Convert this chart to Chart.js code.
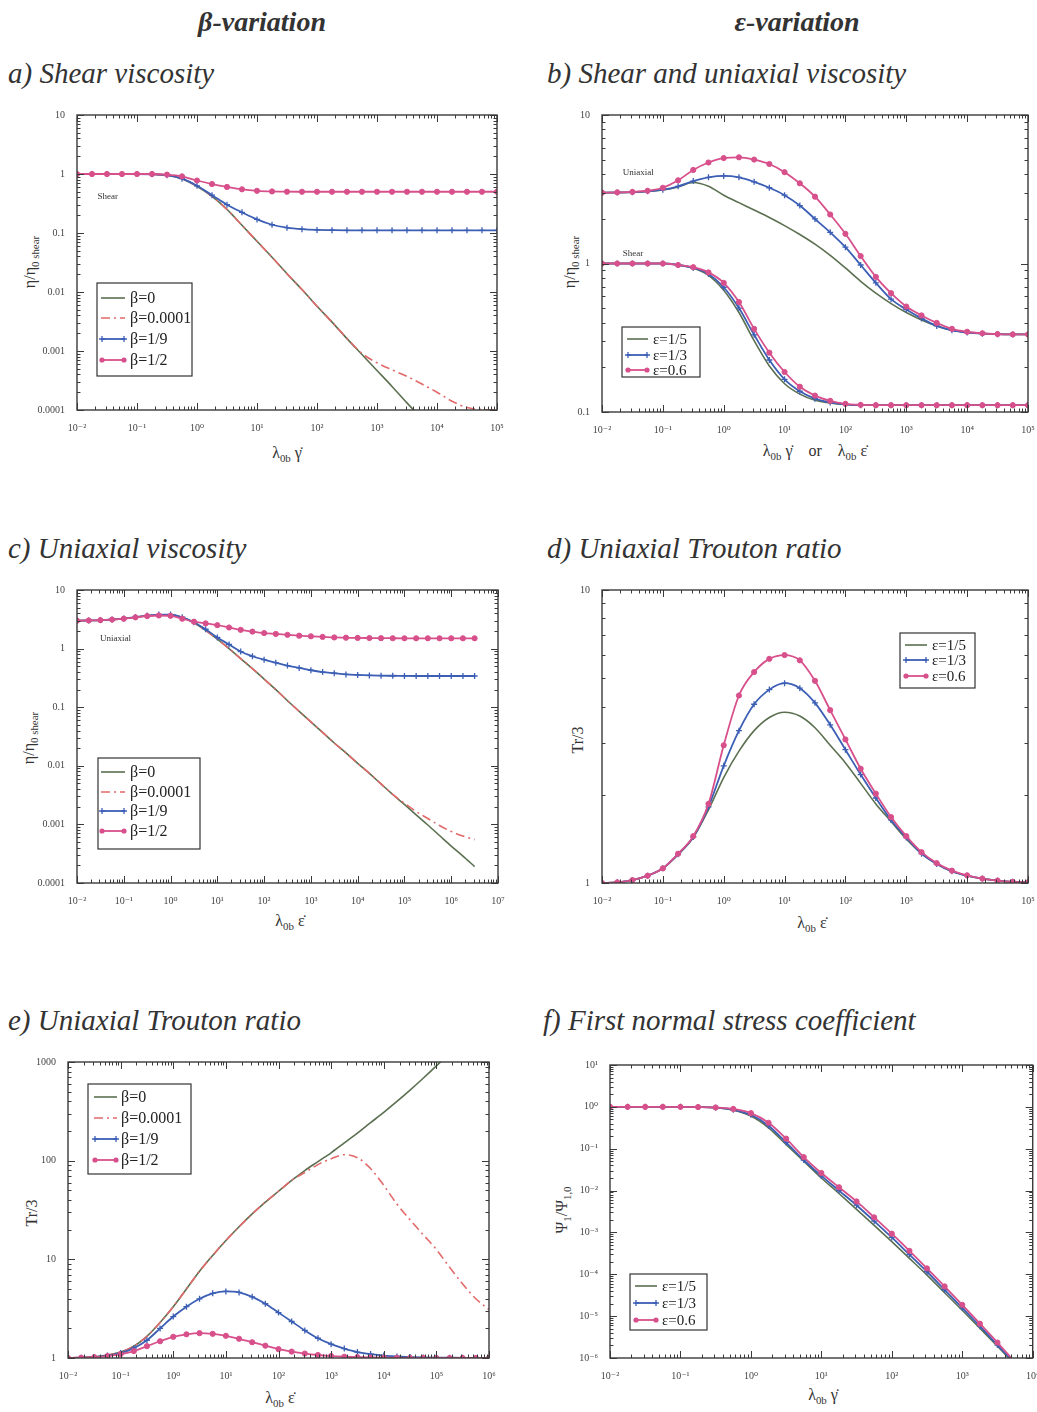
<!DOCTYPE html>
<html>
<head>
<meta charset="utf-8">
<script src="https://cdn.jsdelivr.net/npm/chart.js@4.4.1/dist/chart.umd.min.js"></script>
<style>
  body { margin: 0; background: #fff; }
  #page { position: relative; width: 1037px; height: 1412px; overflow: hidden; background: #fff; }
  .hd { position: absolute; font: italic bold 28px "Liberation Serif", serif; color: #333; transform: translate(-50%, -50%); white-space: nowrap; }
  .pt { position: absolute; font: italic 29px "Liberation Serif", serif; color: #333; transform: translateY(-50%); white-space: nowrap; }
  .ax { position: absolute; font: 16px "Liberation Serif", serif; color: #333; transform: translate(-50%, -50%); white-space: nowrap; }
  .ay { position: absolute; font: 16px "Liberation Serif", serif; color: #333; transform: translate(-50%, -50%) rotate(-90deg); white-space: nowrap; }
  sub { font-size: 0.68em; vertical-align: -0.35em; line-height: 0; }
</style>
</head>
<body>
<div id="page">
  <div class="hd" style="left:262px;top:22px">β-variation</div>
  <div class="hd" style="left:797px;top:22px">ε-variation</div>

  <div class="pt" style="left:8px;top:73px">a) Shear viscosity</div>
  <div class="pt" style="left:547px;top:73px">b) Shear and uniaxial viscosity</div>
  <div class="pt" style="left:8px;top:548px">c) Uniaxial viscosity</div>
  <div class="pt" style="left:547px;top:548px">d) Uniaxial Trouton ratio</div>
  <div class="pt" style="left:8px;top:1020px">e) Uniaxial Trouton ratio</div>
  <div class="pt" style="left:543px;top:1020px">f) First normal stress coefficient</div>

  <div class="ay" style="left:30px;top:262px">η/η<sub>0 shear</sub></div>
  <div class="ax" style="left:287px;top:453px">λ<sub>0b</sub> γ̇</div>
  <div class="ay" style="left:570px;top:262px">η/η<sub>0 shear</sub></div>
  <div class="ax" style="left:815px;top:451px">λ<sub>0b</sub> γ̇ &nbsp;&nbsp; or &nbsp;&nbsp; λ<sub>0b</sub> ε̇</div>
  <div class="ay" style="left:29px;top:738px">η/η<sub>0 shear</sub></div>
  <div class="ax" style="left:290px;top:921px">λ<sub>0b</sub> ε̇</div>
  <div class="ay" style="left:578px;top:740px">Tr/3</div>
  <div class="ax" style="left:812px;top:923px">λ<sub>0b</sub> ε̇</div>
  <div class="ay" style="left:32px;top:1213px">Tr/3</div>
  <div class="ax" style="left:280px;top:1398px">λ<sub>0b</sub> ε̇</div>
  <div class="ay" style="left:562px;top:1210px">Ψ<sub>1</sub>/Ψ<sub>1,0</sub></div>
  <div class="ax" style="left:823px;top:1395px">λ<sub>0b</sub> γ̇</div>
</div>
<script>
// ---- data ----
// x grids (quarter decades)
const xA = [0.01,0.0178,0.0316,0.0562,0.1,0.178,0.316,0.562,1,1.78,3.16,5.62,10,17.8,31.6,56.2,100,178,316,562,1000,1780,3160,5620,10000,17800,31600,56200,100000];
const xC = [0.01,0.0178,0.0316,0.0562,0.1,0.178,0.316,0.562,1,1.78,3.16,5.62,10,17.8,31.6,56.2,100,178,316,562,1000,1780,3160,5620,10000,17800,31600,56200,100000,178000,316000,562000,1000000,1780000,3160000];
const xE = xC.slice(0, 33);
const xF = xA.slice(0, 25);

// a) shear viscosity, beta variation
const aBeta0   = [1,1,1,1,1,0.989,0.955,0.832,0.617,0.417,0.251,0.135,0.0724,0.0389,0.0204,0.011,0.00575,0.00309,0.00162,0.000871,0.000468,0.000251,0.000132,0.0000708,null,null,null,null,null];
const aBeta1e4 = [1,1,1,1,1,0.989,0.955,0.832,0.617,0.417,0.251,0.135,0.0724,0.0389,0.0204,0.011,0.00575,0.00309,0.00163,0.000912,0.000631,0.000479,0.000372,0.000275,0.0002,0.000141,0.00011,0.000102,0.0001];
const aBeta19  = [1,1,1,1,1,0.989,0.955,0.832,0.631,0.437,0.302,0.224,0.17,0.138,0.123,0.116,0.1127,0.1117,0.1111,0.1111,0.1111,0.1111,0.1111,0.1111,0.1111,0.1111,0.1111,0.1111,0.1111];
const aBeta12  = [1,1,1,1,1,1,0.977,0.912,0.776,0.676,0.603,0.55,0.519,0.506,0.501,0.5,0.5,0.5,0.5,0.5,0.5,0.5,0.5,0.5,0.5,0.5,0.5,0.5,0.5];

// b) shear and uniaxial viscosity, epsilon variation
const bUniE15 = [3,3.006,3.02,3.055,3.126,3.273,3.508,3.311,2.884,2.57,2.291,2.042,1.799,1.567,1.349,1.135,0.933,0.759,0.631,0.537,0.468,0.417,0.38,0.355,0.343,0.337,0.334,0.333,0.333];
const bUniE13 = [3,3.006,3.02,3.062,3.141,3.311,3.589,3.802,3.89,3.802,3.548,3.236,2.884,2.455,1.995,1.622,1.288,0.977,0.741,0.575,0.49,0.427,0.38,0.355,0.343,0.337,0.334,0.333,0.333];
const bUniE06 = [3,3.013,3.034,3.09,3.236,3.631,4.266,4.786,5.129,5.188,5.012,4.677,4.121,3.467,2.818,2.138,1.585,1.122,0.813,0.631,0.513,0.447,0.398,0.363,0.347,0.339,0.335,0.333,0.333];
const bShE15  = [1,1,1,1,1,0.977,0.933,0.832,0.661,0.468,0.302,0.204,0.155,0.132,0.12,0.115,0.1122,0.1111,0.1111,0.1111,0.1111,0.1111,0.1111,0.1111,0.1111,0.1111,0.1111,0.1111,0.1111];
const bShE13  = [1,1,1,1,1,0.977,0.933,0.851,0.692,0.501,0.331,0.224,0.166,0.138,0.123,0.116,0.1127,0.1111,0.1111,0.1111,0.1111,0.1111,0.1111,0.1111,0.1111,0.1111,0.1111,0.1111,0.1111];
const bShE06  = [1,1,1,1,1,0.977,0.944,0.871,0.741,0.55,0.363,0.251,0.186,0.148,0.129,0.119,0.1135,0.1117,0.1111,0.1111,0.1111,0.1111,0.1111,0.1111,0.1111,0.1111,0.1111,0.1111,0.1111];

// c) uniaxial viscosity, beta variation
const cBeta0   = [3,3.02,3.055,3.126,3.236,3.428,3.631,3.758,3.758,3.388,2.754,2.042,1.445,1,0.676,0.457,0.302,0.2,0.129,0.0851,0.0562,0.0372,0.0245,0.0166,0.011,0.00741,0.0049,0.00324,0.00219,0.00145,0.000977,0.000646,0.000427,0.000288,0.000191];
const cBeta1e4 = [3,3.02,3.055,3.126,3.236,3.428,3.631,3.758,3.758,3.388,2.754,2.042,1.445,1,0.676,0.457,0.302,0.2,0.129,0.0851,0.0562,0.0372,0.0245,0.0166,0.011,0.00741,0.0049,0.00324,0.00229,0.00166,0.00126,0.000955,0.000759,0.000631,0.00055];
const cBeta19  = [3,3.02,3.062,3.141,3.251,3.451,3.656,3.802,3.802,3.428,2.818,2.138,1.549,1.175,0.891,0.741,0.646,0.575,0.513,0.468,0.427,0.398,0.38,0.363,0.355,0.349,0.345,0.344,0.342,0.341,0.341,0.341,0.341,0.341,0.341];
const cBeta12  = [3,3.02,3.055,3.126,3.236,3.412,3.589,3.673,3.631,3.236,2.884,2.692,2.512,2.291,2.089,1.95,1.841,1.778,1.718,1.66,1.622,1.585,1.549,1.535,1.521,1.514,1.507,1.503,1.5,1.5,1.5,1.5,1.5,1.5,1.5];

// d) uniaxial Trouton ratio, epsilon variation
const dE15 = [1,1.005,1.023,1.059,1.122,1.25,1.429,1.778,2.291,2.818,3.311,3.673,3.828,3.715,3.388,2.951,2.57,2.188,1.862,1.622,1.413,1.259,1.161,1.096,1.059,1.035,1.019,1.009,1.005];
const dE13 = [1,1.005,1.023,1.059,1.122,1.253,1.435,1.82,2.512,3.311,4.074,4.571,4.808,4.624,4.121,3.467,2.851,2.344,1.95,1.641,1.429,1.259,1.161,1.096,1.059,1.035,1.019,1.009,1.005];
const dE06 = [1,1.005,1.023,1.059,1.122,1.259,1.445,1.862,2.951,4.365,5.248,5.821,5.998,5.754,4.898,3.89,3.09,2.455,2.018,1.679,1.445,1.274,1.169,1.102,1.062,1.035,1.019,1.009,1.005];

// e) uniaxial Trouton ratio, beta variation
const eBeta0   = [1,1.012,1.028,1.072,1.148,1.318,1.66,2.291,3.311,5.012,7.586,10.96,15.49,21.38,28.84,38.02,48.98,63.1,79.43,97.72,120.2,151.4,190.5,242.7,309,398.1,518.8,683.9,912,1230,null,null,null];
const eBeta1e4 = [1,1.012,1.028,1.072,1.148,1.318,1.66,2.291,3.311,5.012,7.586,10.96,15.49,21.38,28.84,38.02,48.98,63.1,75.86,91.2,104.7,114.8,107.2,83.18,56.23,36.31,25.12,17.78,12.59,8.318,5.623,3.981,3.09];
const eBeta19  = [1,1.007,1.023,1.059,1.122,1.259,1.514,1.995,2.63,3.311,3.981,4.519,4.732,4.624,4.169,3.548,2.884,2.344,1.905,1.585,1.38,1.245,1.148,1.096,1.059,1.038,1.023,1.014,1.009,1.007,1.005,1.002,1.002];
const eBeta12  = [1,1.007,1.019,1.047,1.096,1.175,1.318,1.479,1.641,1.738,1.786,1.758,1.679,1.567,1.445,1.334,1.23,1.161,1.109,1.072,1.047,1.03,1.019,1.012,1.007,1.005,1.002,1.002,1,1,1,1,1];

// f) first normal stress coefficient, epsilon variation
const fE15 = [1,1,1,1,1,0.989,0.955,0.832,0.603,0.316,0.126,0.0501,0.02,0.00851,0.00355,0.00148,0.000603,0.00024,0.0000955,0.0000363,0.0000138,0.00000513,0.00000191,6.92e-7,2.51e-7];
const fE13 = [1,1,1,1,1,0.989,0.955,0.851,0.646,0.355,0.141,0.0537,0.0224,0.01,0.00447,0.00186,0.000759,0.000295,0.000115,0.0000427,0.0000158,0.00000575,0.00000204,7.24e-7,2.63e-7];
const fE06 = [1,1,1,1,1,0.989,0.966,0.891,0.708,0.417,0.174,0.0631,0.0263,0.012,0.0055,0.00229,0.000933,0.000363,0.000138,0.0000513,0.0000186,0.00000661,0.00000234,7.94e-7,2.82e-7];

// ---- drawing ----
const SERIF = '"Liberation Serif", "DejaVu Serif", serif';
const PAGE_W = 1037, YW = 72, PT = 12, XH = 32;
const SUP = { '-': '⁻', '0': '⁰', '1': '¹', '2': '²', '3': '³', '4': '⁴', '5': '⁵', '6': '⁶', '7': '⁷', '8': '⁸', '9': '⁹' };

const STYLE = {
  green: { color: '#5b7050', width: 1.6, dash: [], point: null },
  red:   { color: '#e26a6a', width: 1.6, dash: [9, 4, 2, 4], point: null },
  blue:  { color: '#3c5fb5', width: 1.8, dash: [], point: 'cross' },
  pink:  { color: '#d8508b', width: 1.8, dash: [], point: 'circle' }
};

function logTicks(min, max) {
  const out = [];
  for (let e = Math.floor(Math.log10(min)); e <= Math.ceil(Math.log10(max)); e++) {
    for (let m = 1; m < 10; m++) {
      const v = Number((m * Math.pow(10, e)).toPrecision(6));
      if (v >= min * 0.999 && v <= max * 1.001) out.push({ value: v, major: m === 1 });
    }
  }
  return out;
}

function tickText(v, fmt) {
  const e = Math.log10(v);
  if (Math.abs(e - Math.round(e)) > 1e-6) return '';
  if (fmt === 'pow') return '10' + String(Math.round(e)).split('').map(c => SUP[c]).join('');
  return String(v);
}

const panels = [
  { id: 'a', rect: [77, 115, 497, 410], xr: [0.01, 1e5], yr: [1e-4, 10], xf: 'pow', yf: 'plain', xs: xA,
    series: [['β=0', aBeta0, 'green'], ['β=0.0001', aBeta1e4, 'red'], ['β=1/9', aBeta19, 'blue'], ['β=1/2', aBeta12, 'pink']],
    legend: { box: [97, 283, 192, 376], rows: [298, 318, 339, 360], line: [101, 125], text: 130, size: 16, items: [0, 1, 2, 3] },
    notes: [{ t: 'Shear', x: 0.022, y: 0.41 }] },
  { id: 'b', rect: [602, 115, 1028, 412], xr: [0.01, 1e5], yr: [0.1, 10], xf: 'pow', yf: 'plain', xs: xA,
    series: [['ε=1/5', bUniE15, 'green'], ['ε=1/3', bUniE13, 'blue'], ['ε=0.6', bUniE06, 'pink'],
             ['ε=1/5', bShE15, 'green'], ['ε=1/3', bShE13, 'blue'], ['ε=0.6', bShE06, 'pink']],
    legend: { box: [622, 327, 700, 377], rows: [339, 355, 370], line: [627, 648], text: 653, size: 15, items: [0, 1, 2] },
    notes: [{ t: 'Uniaxial', x: 0.022, y: 4.1 }, { t: 'Shear', x: 0.022, y: 1.16 }] },
  { id: 'c', rect: [77, 590, 498, 883], xr: [0.01, 1e7], yr: [1e-4, 10], xf: 'pow', yf: 'plain', xs: xC,
    series: [['β=0', cBeta0, 'green'], ['β=0.0001', cBeta1e4, 'red'], ['β=1/9', cBeta19, 'blue'], ['β=1/2', cBeta12, 'pink']],
    legend: { box: [98, 758, 200, 849], rows: [772, 792, 811, 831], line: [101, 125], text: 130, size: 16, items: [0, 1, 2, 3] },
    notes: [{ t: 'Uniaxial', x: 0.031, y: 1.46 }] },
  { id: 'd', rect: [602, 590, 1028, 883], xr: [0.01, 1e5], yr: [1, 10], xf: 'pow', yf: 'plain', xs: xA,
    series: [['ε=1/5', dE15, 'green'], ['ε=1/3', dE13, 'blue'], ['ε=0.6', dE06, 'pink']],
    legend: { box: [900, 633, 975, 688], rows: [645, 660, 676], line: [905, 927], text: 932, size: 15, items: [0, 1, 2] },
    notes: [] },
  { id: 'e', rect: [68, 1062, 489, 1358], xr: [0.01, 1e6], yr: [1, 1000], xf: 'pow', yf: 'plain', xs: xE,
    series: [['β=0', eBeta0, 'green'], ['β=0.0001', eBeta1e4, 'red'], ['β=1/9', eBeta19, 'blue'], ['β=1/2', eBeta12, 'pink']],
    legend: { box: [88, 1084, 191, 1174], rows: [1097, 1118, 1139, 1160], line: [94, 117], text: 121, size: 16, items: [0, 1, 2, 3] },
    notes: [] },
  { id: 'f', rect: [610, 1065, 1035, 1358], xr: [0.01, 1e4], yr: [1e-6, 10], xf: 'pow', yf: 'pow', xs: xF,
    series: [['ε=1/5', fE15, 'green'], ['ε=1/3', fE13, 'blue'], ['ε=0.6', fE06, 'pink']],
    legend: { box: [630, 1274, 707, 1330], rows: [1286, 1303, 1320], line: [635, 657], text: 662, size: 15, items: [0, 1, 2] },
    notes: [] }
];

function drawMark(ctx, style, x, y, color) {
  ctx.fillStyle = color; ctx.strokeStyle = color;
  if (style === 'circle') {
    ctx.beginPath(); ctx.arc(x, y, 2.6, 0, Math.PI * 2); ctx.fill();
  } else if (style === 'cross') {
    ctx.lineWidth = 1.3;
    ctx.beginPath(); ctx.moveTo(x - 3, y); ctx.lineTo(x + 3, y); ctx.moveTo(x, y - 3); ctx.lineTo(x, y + 3); ctx.stroke();
  }
}

function decor(p, cx, cy) {
  return {
    id: 'decor_' + p.id,
    afterDatasetsDraw(chart) {
      const { ctx, chartArea: a } = chart;
      const sx = chart.scales.x, sy = chart.scales.y;
      ctx.save();
      // inward ticks on all four sides
      ctx.strokeStyle = '#3a3a3a'; ctx.lineWidth = 1;
      ctx.beginPath();
      sx.ticks.forEach(t => {
        const px = Math.round(sx.getPixelForValue(t.value)) + 0.5;
        const len = t.major ? 7 : 3.5;
        ctx.moveTo(px, a.bottom); ctx.lineTo(px, a.bottom - len);
        ctx.moveTo(px, a.top); ctx.lineTo(px, a.top + len);
      });
      sy.ticks.forEach(t => {
        const py = Math.round(sy.getPixelForValue(t.value)) + 0.5;
        const len = t.major ? 7 : 3.5;
        ctx.moveTo(a.left, py); ctx.lineTo(a.left + len, py);
        ctx.moveTo(a.right, py); ctx.lineTo(a.right - len, py);
      });
      ctx.stroke();
      ctx.lineWidth = 1.4;
      ctx.strokeRect(a.left, a.top, a.right - a.left, a.bottom - a.top);

      // small text labels inside the plot
      ctx.fillStyle = '#333'; ctx.font = '9px ' + SERIF;
      ctx.textAlign = 'left'; ctx.textBaseline = 'middle';
      p.notes.forEach(n => ctx.fillText(n.t, sx.getPixelForValue(n.x), sy.getPixelForValue(n.y)));

      // boxed legend
      const lg = p.legend;
      const bx = lg.box[0] - cx, by = lg.box[1] - cy;
      const bw = lg.box[2] - lg.box[0], bh = lg.box[3] - lg.box[1];
      ctx.fillStyle = '#fff'; ctx.fillRect(bx, by, bw, bh);
      ctx.strokeStyle = '#333'; ctx.lineWidth = 1.2; ctx.strokeRect(bx, by, bw, bh);
      lg.items.forEach((di, k) => {
        const ds = chart.data.datasets[di];
        const st = STYLE[p.series[di][2]];
        const y = lg.rows[k] - cy, x0 = lg.line[0] - cx, x1 = lg.line[1] - cx;
        ctx.strokeStyle = st.color; ctx.lineWidth = st.width; ctx.setLineDash(st.dash);
        ctx.beginPath(); ctx.moveTo(x0, y); ctx.lineTo(x1, y); ctx.stroke();
        ctx.setLineDash([]);
        if (st.point) { drawMark(ctx, st.point, x0 + 1, y, st.color); drawMark(ctx, st.point, x1 - 1, y, st.color); }
        ctx.fillStyle = '#222'; ctx.font = lg.size + 'px ' + SERIF;
        ctx.fillText(ds.label, lg.text - cx, y + 1);
      });
      ctx.restore();
    }
  };
}

function makePanel(p) {
  const [L, T, R, B] = p.rect;
  const padR = Math.min(22, PAGE_W - R);
  const cx = L - YW, cy = T - PT;
  const w = YW + (R - L) + padR, h = PT + (B - T) + XH;
  const cv = document.createElement('canvas');
  cv.width = w; cv.height = h;
  cv.style.cssText = `position:absolute;left:${cx}px;top:${cy}px;width:${w}px;height:${h}px`;
  document.getElementById('page').appendChild(cv);

  const n = p.series.length;
  const datasets = p.series.map(([label, ys, key], i) => {
    const st = STYLE[key];
    return {
      label,
      data: p.xs.map((x, j) => ({ x, y: ys[j] })),
      order: n - i,
      borderColor: st.color,
      borderWidth: st.width,
      borderDash: st.dash,
      fill: false,
      cubicInterpolationMode: 'monotone',
      pointStyle: st.point || 'circle',
      pointRadius: st.point ? (st.point === 'cross' ? 3 : 2.6) : 0,
      pointHoverRadius: 0,
      pointBackgroundColor: st.color,
      pointBorderColor: st.color,
      pointBorderWidth: st.point === 'cross' ? 1.3 : 1
    };
  });

  const tickFont = { family: SERIF, size: 10 };
  new Chart(cv, {
    type: 'line',
    data: { datasets },
    options: {
      responsive: false,
      animation: false,
      devicePixelRatio: 1,
      events: [],
      layout: { padding: { left: 0, top: PT, right: padR, bottom: 0 } },
      plugins: { legend: { display: false }, tooltip: { enabled: false } },
      scales: {
        x: {
          type: 'logarithmic', min: p.xr[0], max: p.xr[1],
          grid: { display: false }, border: { display: false },
          ticks: { autoSkip: false, maxRotation: 0, padding: 4, font: tickFont, color: '#444', callback: v => tickText(v, p.xf) },
          afterBuildTicks: s => { s.ticks = logTicks(p.xr[0], p.xr[1]); },
          afterFit: s => { s.height = XH; s.paddingLeft = 0; s.paddingRight = 0; }
        },
        y: {
          type: 'logarithmic', min: p.yr[0], max: p.yr[1],
          grid: { display: false }, border: { display: false },
          ticks: { autoSkip: false, padding: 4, font: tickFont, color: '#444', callback: v => tickText(v, p.yf) },
          afterBuildTicks: s => { s.ticks = logTicks(p.yr[0], p.yr[1]); },
          afterFit: s => { s.width = YW; s.paddingTop = 0; s.paddingBottom = 0; }
        }
      }
    },
    plugins: [decor(p, cx, cy)]
  });
}

panels.forEach(makePanel);
</script>
</body>
</html>
